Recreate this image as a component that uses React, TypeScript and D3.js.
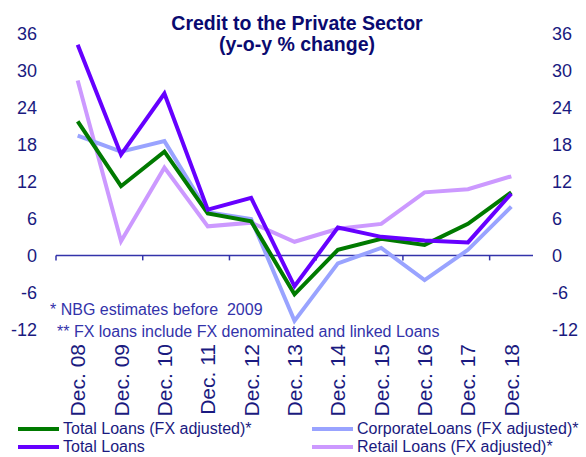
import React from "react";
import * as d3 from "d3";

const categories = ["Dec. 08","Dec. 09","Dec. 10","Dec. 11","Dec. 12","Dec. 13","Dec. 14","Dec. 15","Dec. 16","Dec. 17","Dec. 18"];
const totalFx = [21.7, 11.2, 16.8, 6.8, 5.5, -6.3, 0.9, 2.7, 1.7, 5.1, 10.2];
const corporate = [19.4, 16.8, 18.5, 7.0, 5.9, -10.6, -1.3, 1.2, -4.0, 0.9, 7.9];
const totalLoans = [34.1, 16.3, 26.2, 7.4, 9.3, -5.0, 4.5, 3.0, 2.4, 2.1, 10.0];
const retail = [28.3, 2.3, 14.2, 4.7, 5.3, 2.2, 4.3, 5.1, 10.2, 10.7, 12.8];
const yTicks = [36, 30, 24, 18, 12, 6, 0, -6, -12];

const seriesList = [
  { name: "Retail Loans (FX adjusted)*", values: retail, color: "#CC99FF" },
  { name: "CorporateLoans (FX adjusted)*", values: corporate, color: "#99A3FF" },
  { name: "Total Loans (FX adjusted)*", values: totalFx, color: "#007A00" },
  { name: "Total Loans", values: totalLoans, color: "#6600FF" },
];

const legendItems = [
  { name: "Total Loans (FX adjusted)*", color: "#007A00", col: 0, row: 0 },
  { name: "CorporateLoans (FX adjusted)*", color: "#99A3FF", col: 1, row: 0 },
  { name: "Total Loans", color: "#6600FF", col: 0, row: 1 },
  { name: "Retail Loans (FX adjusted)*", color: "#CC99FF", col: 1, row: 1 },
];

export default function App() {
  const W = 586, H = 457;
  const left = 56, right = 533;
  const x = d3.scaleBand<string>().domain(categories).range([left, right]);
  const y = d3.scaleLinear().domain([-12, 36]).range([329.5, 33]);
  const line = d3.line<number>()
    .x((_, i) => (x(categories[i]) as number) + x.bandwidth() / 2)
    .y((d) => y(d));
  const font = "'Liberation Sans', Arial, sans-serif";
  const navy = "#1A1A80";
  const tickXs = d3.range(0, categories.length + 1, 2).map((i) => left + i * x.step());
  return (
    <svg width={W} height={H} style={{ position: "absolute", left: 0, top: 0 }} fontFamily={font}>
      <rect width={W} height={H} fill="#fff" />
      <text x={297} y={30} textAnchor="middle" fontSize={19.5} fontWeight="bold" fill="#0A0A70">Credit to the Private Sector</text>
      <text x={297} y={51} textAnchor="middle" fontSize={19.5} fontWeight="bold" fill="#0A0A70">(y-o-y % change)</text>
      {yTicks.map((t) => (
        <g key={t}>
          <text x={37} y={y(t) + 6.5} textAnchor="end" fontSize={18} fill={navy}>{t}</text>
          <text x={552} y={y(t) + 6.5} textAnchor="start" fontSize={18} fill={navy}>{t}</text>
        </g>
      ))}
      <line x1={left} x2={right} y1={y(0)} y2={y(0)} stroke="#3333AA" strokeWidth={1.5} />
      {tickXs.map((tx, i) => (
        <line key={i} x1={tx} x2={tx} y1={y(0)} y2={y(0) + 5} stroke="#3333AA" strokeWidth={1.5} />
      ))}
      {seriesList.map((s) => (
        <path key={s.name} d={line(s.values) || ""} fill="none" stroke={s.color} strokeWidth={4} strokeLinejoin="miter" />
      ))}
      <text x={50} y={315} fontSize={16} fill="#3333AA" style={{ whiteSpace: "pre" }}>{"* NBG estimates before  2009"}</text>
      <text x={57} y={337} fontSize={16} fill="#3333AA">** FX loans include FX denominated and linked Loans</text>
      {categories.map((c) => {
        const cx = (x(c) as number) + x.bandwidth() / 2;
        return (
          <text key={c} transform={`translate(${cx + 7.5},344) rotate(-90)`} textAnchor="end" fontSize={21} fill={navy}>{c}</text>
        );
      })}
      {legendItems.map((it) => {
        const lx = it.col === 0 ? 18 : 312;
        const ly = it.row === 0 ? 429 : 447;
        return (
          <g key={it.name}>
            <line x1={lx} x2={lx + 41} y1={ly} y2={ly} stroke={it.color} strokeWidth={4} />
            <text x={lx + 45} y={ly + 5} fontSize={16} fill={navy}>{it.name}</text>
          </g>
        );
      })}
    </svg>
  );
}
